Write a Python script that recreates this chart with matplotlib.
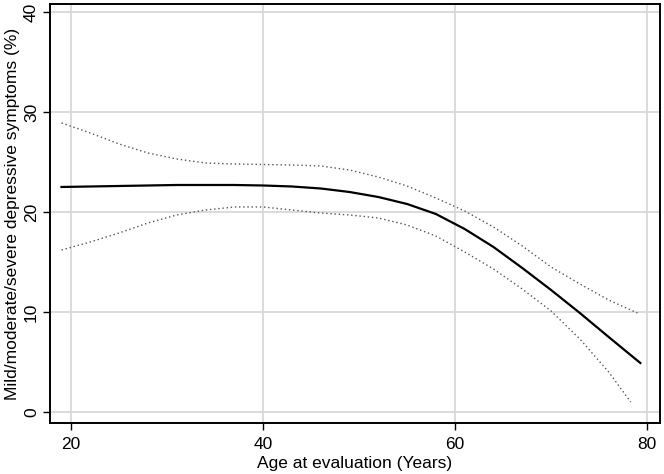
import matplotlib
matplotlib.use("Agg")
import matplotlib.pyplot as plt

# fitted prevalence by age
age = [19, 22, 25, 28, 31, 34, 37, 40, 43, 46, 49, 52, 55, 58, 61, 64, 67, 70, 73, 76, 79.3]
fit = [22.5, 22.55, 22.6, 22.65, 22.7, 22.7, 22.7, 22.65, 22.55, 22.35, 22.0, 21.5,
       20.8, 19.8, 18.3, 16.5, 14.4, 12.2, 9.9, 7.5, 4.9]

# upper / lower confidence bounds
age_up = [19, 22, 25, 28, 31, 34, 37, 40, 43, 46, 49, 52, 55, 58, 61, 64, 67, 70, 73, 76, 79]
upper = [28.9, 27.9, 26.8, 25.9, 25.3, 24.9, 24.8, 24.75, 24.7, 24.6, 24.2, 23.5,
         22.6, 21.4, 20.1, 18.5, 16.6, 14.5, 12.8, 11.2, 9.9]
age_lo = [19, 22, 25, 28, 31, 34, 37, 40, 43, 46, 49, 52, 55, 58, 61, 64, 67, 70, 73, 76, 78.3]
lower = [16.2, 17.0, 17.9, 18.9, 19.7, 20.2, 20.5, 20.5, 20.2, 19.9, 19.7, 19.4,
         18.7, 17.6, 16.0, 14.3, 12.3, 10.1, 7.3, 4.0, 1.0]

xticks = [20, 40, 60, 80]
yticks = [0, 10, 20, 30, 40]

plt.rcParams['font.family'] = ['Liberation Sans', 'DejaVu Sans']

fig = plt.figure(figsize=(6.64, 4.74), dpi=100)
ax = fig.add_axes([0.0753, 0.1076, 0.9187, 0.884])

ax.plot(age, fit, color='black', lw=1.6, zorder=3)
ax.plot(age_up, upper, color='#555555', lw=1.0, ls=(0, (1, 2)), zorder=3)
ax.plot(age_lo, lower, color='#555555', lw=1.0, ls=(0, (1, 2)), zorder=3)

ax.set_xlim(17.8, 81.35)
ax.set_ylim(-1.1, 40.8)
ax.set_xticks(xticks)
ax.set_yticks(yticks)
ax.grid(True, color='#d9d9d9', lw=1.3)
ax.set_axisbelow(True)

for s in ax.spines.values():
    s.set_linewidth(1.4)
ax.tick_params(direction='out', length=5, width=1, labelsize=12.5)
ax.tick_params(axis='x', pad=5)
ax.tick_params(axis='y', pad=3)
for lab in ax.get_yticklabels():
    lab.set_rotation(90)
    lab.set_va('center')

ax.set_xlabel('Age at evaluation (Years)', fontsize=12.5, labelpad=3)
ax.set_ylabel('Mild/moderate/severe depressive symptoms (%)', fontsize=12.5, labelpad=3)

fig.savefig('out.png', dpi=100)
